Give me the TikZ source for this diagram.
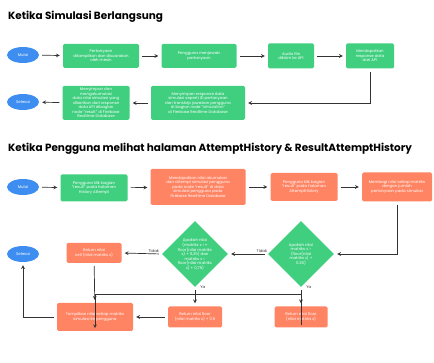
\documentclass[tikz,border=0pt]{standalone}
\usepackage{fontspec}
\setmainfont{Poppins}
\usetikzlibrary{shapes.geometric}
\definecolor{birumulai}{HTML}{3D8EF0}
\definecolor{hijau}{HTML}{3FCF7F}
\definecolor{oranye}{HTML}{FF8463}
\begin{document}
\begin{tikzpicture}[x=1pt,y=-1pt,
		kecil/.style={font=\fontsize{3.9}{4.5}\selectfont},
		judul/.style={anchor=west,inner sep=0pt,font=\fontsize{10.45}{12}\selectfont\bfseries},
		terminal/.style={ellipse,fill=birumulai,text=white,kecil,minimum width=32pt,minimum height=16pt,inner sep=0pt},
		proses/.style={rectangle,rounded corners=1.5pt,fill=hijau,text=white,kecil,align=center,inner sep=1pt},
		prosesb/.style={proses,fill=oranye},
		keputusan/.style={diamond,fill=hijau,minimum width=66pt,minimum height=66pt,inner sep=0pt},
		panah/.style={-stealth,draw=black!80,line width=0.7pt,shorten <=3pt,shorten >=3pt},
		ket/.style={kecil,text=black!80,inner sep=1pt}]
	\useasboundingbox (0,0) rectangle (434,363);

	% ketika simulasi berlangsung
	\node[judul] (j1) at (8,17) {Ketika Simulasi Berlangsung};
	\node[terminal] (m1) at (23,55) {Mulai};
	\node[proses,minimum width=76pt,minimum height=24pt] (b1) at (101,56) {Pertanyaan\\ditampilkan dan disuarakan\\oleh mesin};
	\node[proses,minimum width=75pt,minimum height=24pt] (b2) at (199,56) {Pengguna menjawab\\pertanyaan};
	\node[proses,minimum width=46pt,minimum height=25pt] (b3) at (291,56) {Audio file\\dikirim ke API};
	\node[proses,minimum width=48pt,minimum height=25pt] (b4) at (370,56) {Mendapatkan\\response data\\dari API};
	\node[proses,minimum width=94pt,minimum height=34pt] (b5) at (198,103) {Menyimpan response data\\simulasi seperti ID pertanyaan\\dan transkrip jawaban pengguna\\di bagian node "simulation"\\di Firebase Realtime Database};
	\node[proses,minimum width=67pt,minimum height=34pt] (b6) at (96,103) {Menyimpan dan\\mengakumulasi\\data nilai simulasi yang\\diberikan dari response\\data API dibagian\\node "result" di Firebase\\Realtime Database};
	\node[terminal] (s1) at (23,102) {Selesai};
	\foreach \a/\b in {m1/b1,b1/b2,b2/b3,b3/b4,b5/b6,b6/s1}
		\draw[panah] (\a) -- (\b);
	\draw[panah] (b4.south) |- (b5.east);

	% ketika pengguna melihat halaman
	\node[judul] (j2) at (8,149) {Ketika Pengguna melihat halaman AttemptHistory \& ResultAttemptHistory};
	\node[terminal] (m2) at (23,187) {Mulai};
	\node[proses,minimum width=67pt,minimum height=27pt] (pA) at (94,188) {Pengguna klik bagian\\"result" pada halaman\\History Attempt};
	\node[prosesb,minimum width=95pt,minimum height=36pt] (pB) at (198,187) {Mendapatkan nilai akumulasi\\dan attempt simulasi pengguna\\pada node "result" di data\\simulasi pengguna pada\\Firebase Realtime Database};
	\node[prosesb,minimum width=67pt,minimum height=28pt] (pC) at (304,187) {Pengguna klik bagian\\"result" pada halaman\\AttemptHistory};
	\node[prosesb,minimum width=70pt,minimum height=29pt] (pD) at (397,187) {Membagi nilai setiap matriks\\dengan jumlah\\pertanyaan pada simulasi};
	\node[keputusan] (dR) at (301,254) {};
	\node[kecil,text=white,align=center] (tR) at (dR) {Apakah nilai\\matriks x >\\(floor(nilai\\matriks x) +\\0.25)};
	\node[keputusan] (dL) at (195,254) {};
	\node[kecil,text=white,align=center] (tL) at (dL) {Apakah nilai\\(matriks x >=\\floor(nilai matriks\\x) + 0,25) dan\\matriks x <\\floor(nilai matriks\\x) + 0,75)};
	\node[prosesb,minimum width=55pt,minimum height=20pt] (pE) at (94,253) {Return nilai\\ceil (nilai matriks x)};
	\node[prosesb,minimum width=54pt,minimum height=21pt] (pF) at (195,317) {Return nilai floor\\(nilai matriks x) + 0.5};
	\node[prosesb,minimum width=53pt,minimum height=21pt] (pG) at (301,317) {Return nilai floor\\(nilai matriks x)};
	\node[prosesb,minimum width=76pt,minimum height=28pt] (pH) at (95,317) {Tampilkan nilai setiap matriks\\simulasi ke pengguna};
	\node[terminal] (s2) at (23,254) {Selesai};
	\foreach \a/\b in {m2/pA,pA/pB,pB/pC,pC/pD,pE/pH,pF/pH}
		\draw[panah] (\a) -- (\b);
	\draw[panah] (pD.south) |- (dR.east);
	\draw[panah] (dR.west) -- (dL.east) node[ket,pos=0.15,above] {Tidak};
	\draw[panah] (dL.west) -- (pE.east) node[ket,pos=0.2,above] {Tidak};
	\draw[panah] (dL.south) -- (pF.north) node[ket,pos=0,right,xshift=4pt] {Ya};
	\draw[panah] (dR.south) -- (pG.north) node[ket,pos=0,right,xshift=4pt] {Ya};
	\draw[panah] (pG.south) -- ([yshift=33pt]pG.south) -| (pH.south);
	\draw[panah] (pH.west) -| (s2.south);

\end{tikzpicture}
\end{document}
